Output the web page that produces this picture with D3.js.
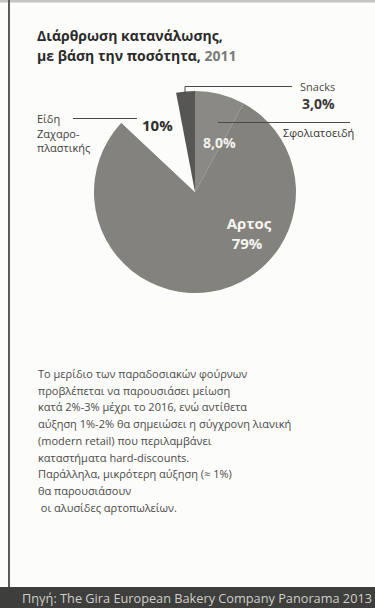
<!DOCTYPE html>
<html lang="el">
<head>
<meta charset="utf-8">
<script src="https://cdn.jsdelivr.net/npm/d3@7"></script>
<style>
  html, body { margin: 0; padding: 0; background: #fcfcfa; }
  svg { display: block; }
</style>
</head>
<body>
<svg id="chart" width="375" height="608"></svg>
<script>
// Consumption breakdown by volume, 2011 (shares in %)
const categories = ["Σφολιατοειδή", "Αρτος", "Είδη ζαχαροπλαστικής", "Snacks"];
const shares = [8.0, 79, 10, 3.0];
const shareLabels = ["8,0%", "79%", "10%", "3,0%"];
const sliceColors = ["#8a8984", "#83827c", "#fcfcfa", "#575652"];

const titleLines = ["Διάρθρωση κατανάλωσης,", "με βάση την ποσότητα, "];
const titleYear = "2011";
const noteLines = [
  "Το μερίδιο των παραδοσιακών φούρνων",
  "προβλέπεται να παρουσιάσει μείωση",
  "κατά 2%-3% μέχρι το 2016, ενώ αντίθετα",
  "αύξηση 1%-2% θα σημειώσει η σύγχρονη λιανική",
  "(modern retail) που περιλαμβάνει",
  "καταστήματα hard-discounts.",
  "Παράλληλα, μικρότερη αύξηση (≈ 1%)",
  "θα παρουσιάσουν",
  " οι αλυσίδες αρτοπωλείων."
];
const sourceText = "Πηγή: The Gira European Bakery Company Panorama 2013";

const W = 375, H = 608;
const svg = d3.select("#chart");
const font = "'Open Sans', 'Noto Sans', sans-serif";

// frame
svg.append("rect").attr("x", 0).attr("y", 0).attr("width", W).attr("height", H).attr("fill", "#fcfcfa");
svg.append("line").attr("x1", 0).attr("x2", W).attr("y1", 1).attr("y2", 1)
  .attr("stroke", "#c4c4c2").attr("stroke-width", 3);
svg.append("line").attr("x1", 9).attr("x2", 9).attr("y1", 0).attr("y2", 588)
  .attr("stroke", "#5a5a58").attr("stroke-width", 2);

// title
const title = svg.append("text").attr("x", 37).attr("font-family", font)
  .attr("font-size", 14).attr("font-weight", 700).attr("fill", "#2b2b2b");
title.append("tspan").attr("x", 37).attr("y", 41).text(titleLines[0]);
title.append("tspan").attr("x", 37).attr("y", 61).text(titleLines[1]);
title.append("tspan").attr("fill", "#7a7a78").text(titleYear);

// pie
const cx = 195, cy = 192, R = 101;
const pie = d3.pie().sort(null).startAngle(0).endAngle(2 * Math.PI);
const arcs = pie(shares);
const arc = d3.arc().innerRadius(0).outerRadius(R);
const g = svg.append("g").attr("transform", `translate(${cx},${cy})`);
g.selectAll("path").data(arcs).join("path")
  .attr("d", arc)
  .attr("fill", (d, i) => sliceColors[i]);

// leader lines
const lines = svg.append("g").attr("stroke", "#4a4a48").attr("stroke-width", 1).attr("fill", "none");
// Snacks
lines.append("path").attr("d", "M185,95 V86.5 H292");
// Σφολιατοειδή
lines.append("line").attr("x1", 218).attr("x2", 350).attr("y1", 122.5).attr("y2", 122.5);
// Είδη ζαχαροπλαστικής
lines.append("line").attr("x1", 73).attr("x2", 137).attr("y1", 118.5).attr("y2", 118.5);

// labels
const lab = svg.append("g").attr("font-family", font);
lab.append("text").attr("x", 300).attr("y", 91).attr("font-size", 11).attr("fill", "#4a4a48").text(categories[3]);
lab.append("text").attr("x", 302).attr("y", 109).attr("font-size", 14).attr("font-weight", 700).attr("fill", "#3a3a38").text(shareLabels[3]);
lab.append("text").attr("x", 283).attr("y", 137).attr("font-size", 11).attr("fill", "#333331").text(categories[0]);
lab.append("text").attr("x", 203).attr("y", 148).attr("font-size", 14).attr("font-weight", 700).attr("fill", "#f2f2ee").text(shareLabels[0]);
lab.append("text").attr("x", 142).attr("y", 131).attr("font-size", 15).attr("font-weight", 700).attr("fill", "#2e2e2c").text(shareLabels[2]);
const cake = lab.append("text").attr("font-size", 11).attr("fill", "#3e3e3c");
["Είδη", "Ζαχαρο-", "πλαστικής"].forEach((s, i) =>
  cake.append("tspan").attr("x", 37).attr("y", 123 + i * 14.5).text(s));
const bread = lab.append("text").attr("font-size", 15).attr("font-weight", 700)
  .attr("fill", "#f4f4f0").attr("text-anchor", "middle");
bread.append("tspan").attr("x", 249).attr("y", 229).text(categories[1]);
bread.append("tspan").attr("x", 247).attr("y", 249).text(shareLabels[1]);

// note paragraph
const note = svg.append("text").attr("font-family", font).attr("font-size", 11).attr("fill", "#4a4a48");
noteLines.forEach((s, i) =>
  note.append("tspan").attr("x", 38).attr("y", 378 + i * 16.7)
    .attr("xml:space", "preserve").style("white-space", "pre").text(s));

// source bar
svg.append("rect").attr("x", 0).attr("y", 587).attr("width", W).attr("height", H - 587).attr("fill", "#3e3e3c");
svg.append("text").attr("x", 22).attr("y", 603).attr("font-family", font).attr("font-size", 12)
  .attr("fill", "#cfcfcb").attr("textLength", 350).attr("lengthAdjust", "spacingAndGlyphs").text(sourceText);
</script>
</body>
</html>
